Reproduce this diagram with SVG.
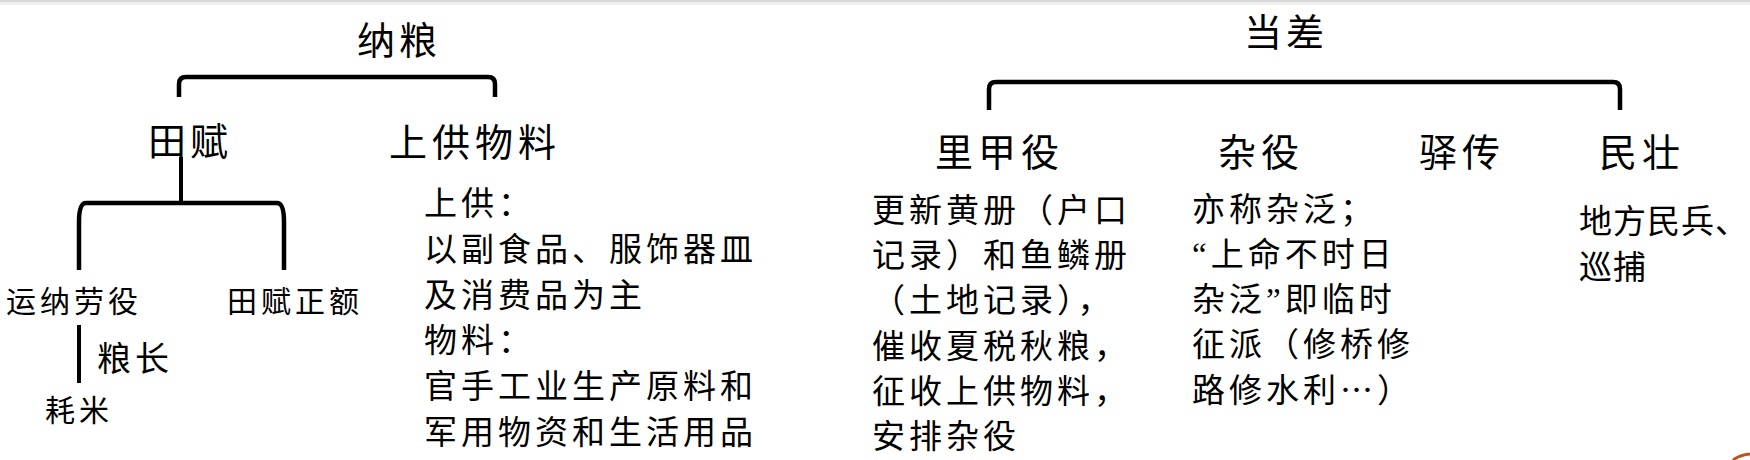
<svg xmlns="http://www.w3.org/2000/svg" width="1750" height="460" viewBox="0 0 1750 460">
<style>
  text { font-family: "Noto Sans CJK SC", "Noto Sans CJK TC", sans-serif; fill: #000; }
  .h { font-size: 38px; letter-spacing: 4px; }
  .b { font-size: 33px; letter-spacing: 4px; }
  .s { font-size: 30px; letter-spacing: 4px; }
  .q { font-family: "Liberation Serif", serif; }
  .br { fill: none; stroke: #000; stroke-width: 4.5; stroke-linejoin: round; }
  .ln { fill: none; stroke: #000; stroke-width: 4; }
</style>
<rect x="0" y="0" width="1750" height="460" fill="#fff"/>
<rect x="0" y="0" width="1750" height="2" fill="#d8d8d8"/>
<rect x="0" y="2" width="1750" height="3" fill="#f0f0f0"/>

<g id="connectors">
  <path class="br" d="M179,97 V84 Q179,77 186,77 H488 Q495,77 495,84 V97"/>
  <path class="ln" d="M181,157 V203"/>
  <path class="br" d="M79,270 V222 Q79,203 86,203 H277 Q284,203 284,222 V270"/>
  <path class="ln" d="M79,325 V383"/>
  <path class="br" d="M989,110 V89 Q989,82 996,82 H1613 Q1620,82 1620,89 V110"/>
</g>

<g id="node-naliang"><text class="h" x="357" y="54">纳粮</text></g>
<g id="node-tianfu"><text class="h" x="148" y="155">田赋</text></g>
<g id="node-shanggong"><text class="h" x="389" y="156" style="letter-spacing:5px">上供物料</text></g>
<g id="node-yunna"><text class="s" x="6" y="312">运纳劳役</text></g>
<g id="node-tianfuzhenge"><text class="s" x="227" y="312">田赋正额</text></g>
<g id="node-liangzhang"><text class="h" x="97" y="371" style="font-size:34px">粮长</text></g>
<g id="node-haomi"><text class="s" x="45" y="421">耗米</text></g>
<g id="node-shanggong-desc">
  <text class="b" x="424" y="215">上供：</text>
  <text class="b" x="424" y="261">以副食品、服饰器皿</text>
  <text class="b" x="424" y="307">及消费品为主</text>
  <text class="b" x="424" y="352">物料：</text>
  <text class="b" x="424" y="398">官手工业生产原料和</text>
  <text class="b" x="424" y="444">军用物资和生活用品</text>
</g>

<g id="node-dangchai"><text class="h" x="1244" y="46">当差</text></g>
<g id="node-lijiayi"><text class="h" x="935" y="166" style="letter-spacing:5px">里甲役</text></g>
<g id="node-zayi"><text class="h" x="1218" y="166" style="letter-spacing:5px">杂役</text></g>
<g id="node-yizhuan"><text class="h" x="1419" y="166" style="letter-spacing:5px">驿传</text></g>
<g id="node-minzhuang"><text class="h" x="1599" y="166" style="letter-spacing:5px">民壮</text></g>
<g id="node-lijiayi-desc">
  <text class="b" x="872" y="222">更新黄册（户口</text>
  <text class="b" x="872" y="267">记录）和鱼鳞册</text>
  <text class="b" x="872" y="312">（土地记录），</text>
  <text class="b" x="872" y="358">催收夏税秋粮，</text>
  <text class="b" x="872" y="403">征收上供物料，</text>
  <text class="b" x="872" y="448">安排杂役</text>
</g>
<g id="node-zayi-desc">
  <text class="b" x="1192" y="221">亦称杂泛；</text>
  <text class="b" x="1192" y="266"><tspan class="q">“</tspan>上命不时日</text>
  <text class="b" x="1192" y="311">杂泛<tspan class="q">”</tspan>即临时</text>
  <text class="b" x="1192" y="356">征派（修桥修</text>
  <text class="b" x="1192" y="402">路修水利…）</text>
</g>
<g id="node-minzhuang-desc">
  <text class="b" x="1579" y="233" style="letter-spacing:1px">地方民兵、</text>
  <text class="b" x="1579" y="279" style="letter-spacing:1px">巡捕</text>
</g>
<path d="M1733,460 Q1740,455 1750,454" fill="none" stroke="#c0501c" stroke-width="3"/>
</svg>
